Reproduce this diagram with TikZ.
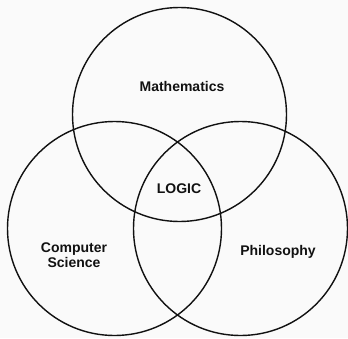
\documentclass[tikz,border=0pt]{standalone}
\usepackage{fontspec}
\setmainfont{Liberation Sans}
\usetikzlibrary{positioning}
\definecolor{pagebg}{HTML}{FAFAFA}
\definecolor{ringline}{HTML}{111111}

\begin{document}
\begin{tikzpicture}[
    x=1pt, y=-1pt,
    % ── shared styles ──
    ring/.style={draw=ringline, line width=1.4pt, circle, minimum size=214pt,
        inner sep=0pt},
    field label/.style={font=\fontsize{14}{15.5}\selectfont\bfseries,
        text=ringline, align=center, inner sep=0pt},
]

% ── frame ──
\fill[pagebg] (0,0) rectangle (348,338);
\useasboundingbox (0,0) rectangle (348,338);

% ── the three fields ──
\node[ring] (math) at (179.5,114.5) {};
\node[ring] (cs)   at (114.5,228.5) {};
\node[ring] (phil) at (240.5,228.5) {};

% ── labels ──
\node[field label] (mathlbl) at (182,86)  {Mathematics};
\node[field label] (cslbl)   at (74,255)  {Computer\\Science};
\node[field label] (phillbl) at (278,252) {Philosophy};
\node[field label] (logic)   at (179,189) {LOGIC};

\end{tikzpicture}
\end{document}
